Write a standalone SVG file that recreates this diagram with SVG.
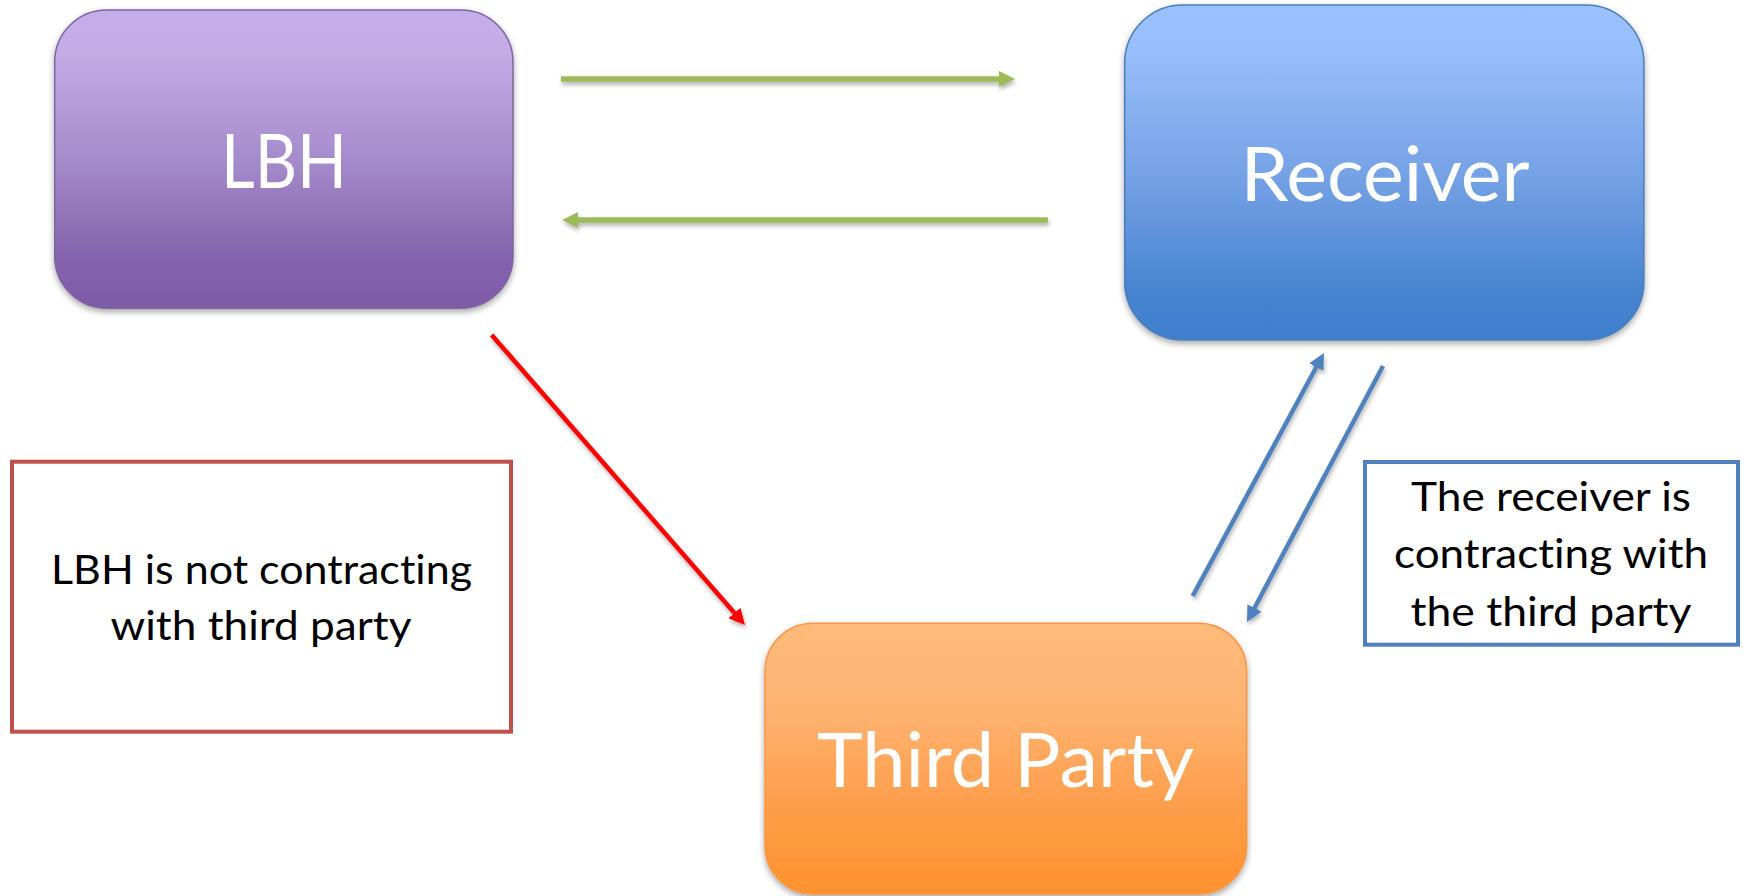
<svg xmlns="http://www.w3.org/2000/svg" width="1746" height="896" viewBox="0 0 1746 896">
  <style>
    .big { font-family: Lato, "Open Sans", "Liberation Sans", sans-serif; font-size: 75px; fill: #ffffff; text-anchor: middle; font-variant-ligatures: none; font-feature-settings: "liga" 0, "clig" 0; }
    .note { font-family: Lato, "Open Sans", "Liberation Sans", sans-serif; font-size: 41px; fill: #000000; text-anchor: middle; font-variant-ligatures: none; font-feature-settings: "liga" 0, "clig" 0; }
    .conn { fill: none; stroke-linecap: butt; }
  </style>
  <defs>
    <linearGradient id="gLBH" x1="0" y1="0" x2="0" y2="1">
      <stop offset="0" stop-color="#C6AEEA"/>
      <stop offset="0.15" stop-color="#C3ABE6"/>
      <stop offset="0.5" stop-color="#A58BCC"/>
      <stop offset="0.82" stop-color="#8563AD"/>
      <stop offset="1" stop-color="#7F5BA7"/>
    </linearGradient>
    <linearGradient id="gRec" x1="0" y1="0" x2="0" y2="1">
      <stop offset="0" stop-color="#9BC1FF"/>
      <stop offset="0.15" stop-color="#97BDFA"/>
      <stop offset="0.5" stop-color="#76A2E6"/>
      <stop offset="0.85" stop-color="#4784D0"/>
      <stop offset="1" stop-color="#3F7FCC"/>
    </linearGradient>
    <linearGradient id="gTP" x1="0" y1="0" x2="0" y2="1">
      <stop offset="0" stop-color="#FFBA7B"/>
      <stop offset="0.3" stop-color="#FFB473"/>
      <stop offset="0.65" stop-color="#FE9F4D"/>
      <stop offset="1" stop-color="#FE922E"/>
    </linearGradient>
    <filter id="shadow" x="-10%" y="-10%" width="120%" height="130%">
      <feDropShadow dx="0" dy="3" stdDeviation="3" flood-color="#000000" flood-opacity="0.35"/>
    </filter>
    <filter id="lshadow" x="-10%" y="-10%" width="120%" height="130%">
      <feDropShadow dx="1" dy="3" stdDeviation="2" flood-color="#000000" flood-opacity="0.3"/>
    </filter>
    <marker id="aGreen" viewBox="0 0 16 16" refX="6" refY="8" markerWidth="16" markerHeight="16" markerUnits="userSpaceOnUse" orient="auto">
      <path d="M0,0 L16,8 L0,16 Z" fill="#9BBB59"/>
    </marker>
    <marker id="aRed" viewBox="0 0 16 16" refX="6" refY="8" markerWidth="16" markerHeight="16" markerUnits="userSpaceOnUse" orient="auto">
      <path d="M0,0 L16,8 L0,16 Z" fill="#FF0000"/>
    </marker>
    <marker id="aBlue" viewBox="0 0 16 16" refX="6" refY="8" markerWidth="16" markerHeight="16" markerUnits="userSpaceOnUse" orient="auto">
      <path d="M0,0 L16,8 L0,16 Z" fill="#4F81BD"/>
    </marker>
  </defs>

  <rect width="1746" height="896" fill="#ffffff"/>

  <g id="connectors" filter="url(#lshadow)">
    <line class="conn" x1="561" y1="79" x2="1005" y2="79" stroke="#9BBB59" stroke-width="5.5" marker-end="url(#aGreen)"/>
    <line class="conn" x1="1048" y1="220" x2="572" y2="220" stroke="#9BBB59" stroke-width="5.5" marker-end="url(#aGreen)"/>
    <line class="conn" x1="491.7" y1="335" x2="738.4" y2="617.5" stroke="#FF0000" stroke-width="4.5" marker-end="url(#aRed)"/>
    <line class="conn" x1="1192.7" y1="596" x2="1319.2" y2="361.8" stroke="#4F81BD" stroke-width="4.5" marker-end="url(#aBlue)"/>
    <line class="conn" x1="1383" y1="366" x2="1251.7" y2="613.2" stroke="#4F81BD" stroke-width="4.5" marker-end="url(#aBlue)"/>
  </g>

  <g id="node-lbh">
    <rect x="54.7" y="10" width="458.3" height="298.3" rx="52" ry="52" fill="url(#gLBH)" stroke="#8064A2" stroke-width="1.5" filter="url(#shadow)"/>
    <text class="big" x="284" y="188" textLength="126" lengthAdjust="spacingAndGlyphs">LBH</text>
  </g>

  <g id="node-receiver">
    <rect x="1124.7" y="5" width="519.2" height="335" rx="58" ry="58" fill="url(#gRec)" stroke="#4A7EBB" stroke-width="1.5" filter="url(#shadow)"/>
    <text class="big" x="1385" y="201" textLength="289" lengthAdjust="spacingAndGlyphs">Receiver</text>
  </g>

  <g id="node-third-party">
    <rect x="765" y="623.3" width="481.7" height="270.7" rx="48" ry="48" fill="url(#gTP)" stroke="#F79646" stroke-width="1.5" filter="url(#shadow)"/>
    <text class="big" x="1005.5" y="787" textLength="377" lengthAdjust="spacingAndGlyphs">Third Party</text>
  </g>

  <g id="note-lbh">
    <rect x="12" y="461.7" width="499" height="270" fill="#ffffff" stroke="#C0504D" stroke-width="4"/>
    <text class="note" x="261.5" y="584" textLength="421" lengthAdjust="spacingAndGlyphs">LBH is not contracting</text>
    <text class="note" x="261" y="640" textLength="301" lengthAdjust="spacingAndGlyphs">with third party</text>
  </g>

  <g id="note-receiver">
    <rect x="1365" y="462" width="373" height="182.7" fill="#ffffff" stroke="#4F81BD" stroke-width="4"/>
    <text class="note" x="1551" y="511" textLength="280" lengthAdjust="spacingAndGlyphs">The receiver is</text>
    <text class="note" x="1551" y="568" textLength="314" lengthAdjust="spacingAndGlyphs">contracting with</text>
    <text class="note" x="1551" y="626" textLength="281" lengthAdjust="spacingAndGlyphs">the third party</text>
  </g>
</svg>
